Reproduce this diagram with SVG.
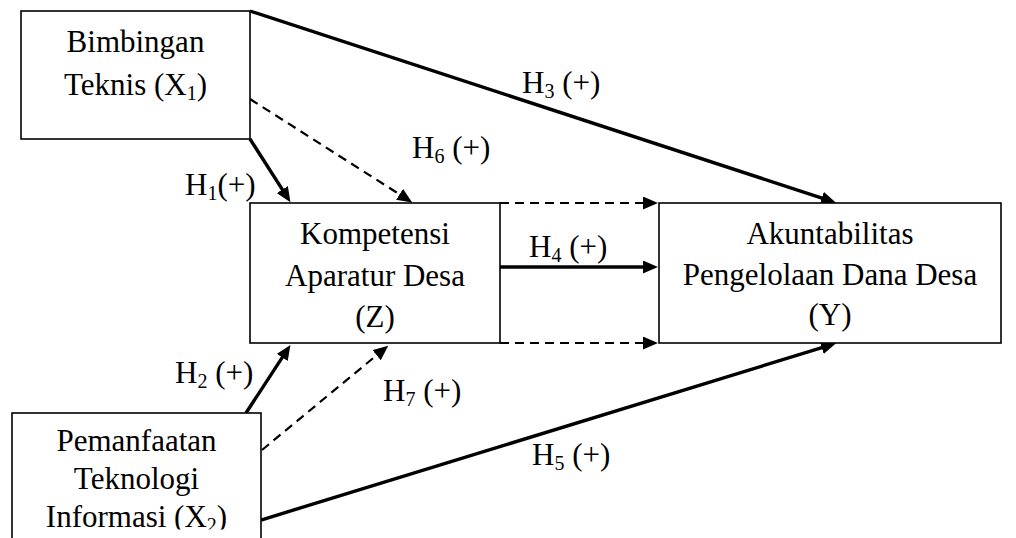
<svg xmlns="http://www.w3.org/2000/svg" width="1016" height="538" viewBox="0 0 1016 538">
<style>
.box{fill:#fff;stroke:#000;stroke-width:1.6}
.t{font-family:"Liberation Serif","Times New Roman",serif;font-size:31px;fill:#000;text-anchor:middle}
.l{font-family:"Liberation Serif","Times New Roman",serif;font-size:31px;fill:#000}
.s{font-size:20px}
.solid{stroke:#000;stroke-width:3.4;fill:none}
.dash{stroke:#000;stroke-width:2.2;fill:none;stroke-dasharray:9 6}
</style>
<defs>
<marker id="ah" markerUnits="userSpaceOnUse" markerWidth="16" markerHeight="13" refX="1" refY="6.5" orient="auto">
<path d="M0,0 L15,6.5 L0,13 z" fill="#000"/>
</marker>
<clipPath id="cut"><rect x="0" y="0" width="1016" height="529.5"/></clipPath>
</defs>
<rect width="1016" height="538" fill="#fff"/>
<g id="connectors">
<line class="solid" x1="250" y1="11" x2="822.7" y2="198.3" marker-end="url(#ah)"/>
<line class="solid" x1="261" y1="520" x2="822.7" y2="347.4" marker-end="url(#ah)"/>
<line class="solid" x1="250" y1="139" x2="282.9" y2="190.4" marker-end="url(#ah)"/>
<line class="dash" x1="250" y1="99" x2="400.4" y2="194.9" marker-end="url(#ah)"/>
<line class="solid" x1="246" y1="413" x2="282.8" y2="356.6" marker-end="url(#ah)"/>
<line class="dash" x1="262" y1="450" x2="377.4" y2="354.6" marker-end="url(#ah)"/>
<line class="solid" x1="500" y1="267" x2="644" y2="267" marker-end="url(#ah)"/>
<line class="dash" x1="500" y1="203" x2="644" y2="203" marker-end="url(#ah)"/>
<line class="dash" x1="500" y1="343" x2="644" y2="343" marker-end="url(#ah)"/>
<text class="l" x="522" y="93">H<tspan class="s" dy="5">3</tspan><tspan dy="-5"> (+)</tspan></text>
<text class="l" x="412" y="158">H<tspan class="s" dy="5">6</tspan><tspan dy="-5"> (+)</tspan></text>
<text class="l" x="185" y="195">H<tspan class="s" dy="5">1</tspan><tspan dy="-5">(+)</tspan></text>
<text class="l" x="175" y="383">H<tspan class="s" dy="5">2</tspan><tspan dy="-5"> (+)</tspan></text>
<text class="l" x="383" y="401">H<tspan class="s" dy="5">7</tspan><tspan dy="-5"> (+)</tspan></text>
<text class="l" x="529" y="257">H<tspan class="s" dy="5">4</tspan><tspan dy="-5"> (+)</tspan></text>
<text class="l" x="532" y="465">H<tspan class="s" dy="5">5</tspan><tspan dy="-5"> (+)</tspan></text>
</g>
<g id="x1">
<rect class="box" x="21" y="11" width="229" height="128"/>
<text class="t" x="135.5" y="52">Bimbingan</text>
<text class="t" x="135.5" y="95">Teknis (X<tspan class="s" dy="5">1</tspan><tspan dy="-5">)</tspan></text>
</g>
<g id="z">
<rect class="box" x="250" y="203" width="250" height="140"/>
<text class="t" x="375" y="244">Kompetensi</text>
<text class="t" x="375" y="286">Aparatur Desa</text>
<text class="t" x="375" y="327">(Z)</text>
</g>
<g id="y">
<rect class="box" x="659" y="203" width="342" height="140"/>
<text class="t" x="830" y="244">Akuntabilitas</text>
<text class="t" x="830" y="285">Pengelolaan Dana Desa</text>
<text class="t" x="830" y="325">(Y)</text>
</g>
<g id="x2">
<rect class="box" x="12" y="413" width="249" height="140"/>
<text class="t" x="136.5" y="451">Pemanfaatan</text>
<text class="t" x="136.5" y="489">Teknologi</text>
<text class="t" x="136.5" y="527" clip-path="url(#cut)">Informasi (X<tspan class="s" dy="5">2</tspan><tspan dy="-5">)</tspan></text>
</g>
</svg>
